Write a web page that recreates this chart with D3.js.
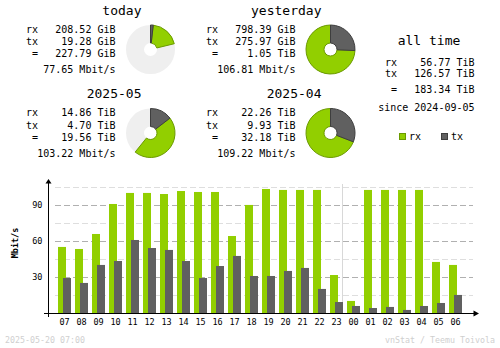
<!DOCTYPE html>
<html>
<head>
<meta charset="utf-8">
<script src="https://cdn.jsdelivr.net/npm/d3@7"></script>
<style>
  html, body { margin: 0; padding: 0; background: #fff; }
  svg { display: block; }
  text { font-family: "DejaVu Sans Mono", monospace; fill: #000; }
</style>
</head>
<body>
<svg id="chart" width="500" height="348"></svg>
<script>
// ---- summary periods ----
const periods   = ["today", "yesterday", "2025-05", "2025-04"];
const rxAmount  = [208.52, 798.39, 14.86, 22.26];
const txAmount  = [19.28, 275.97, 4.70, 9.93];
const units     = ["GiB", "GiB", "TiB", "TiB"];
const totalText = ["227.79 GiB", "1.05 TiB", "19.56 TiB", "32.18 TiB"];
const avgRate   = ["77.65 Mbit/s", "106.81 Mbit/s", "103.22 Mbit/s", "109.22 Mbit/s"];

// ---- all time ----
const allTimeRx = "56.77 TiB";
const allTimeTx = "126.57 TiB";
const allTimeTotal = "183.34 TiB";
const sinceDate = "2024-09-05";

// ---- last 24 hours, average rate in Mbit/s ----
const hours  = ["07","08","09","10","11","12","13","14","15","16","17","18",
                "19","20","21","22","23","00","01","02","03","04","05","06"];
const rxRate = [55.3, 53.6, 66.1, 91.1, 100.3, 100.3, 99.4, 101.9, 101.1, 101.1, 64.4, 90.3,
                103.6, 102.8, 102.8, 102.8, 31.9, 10.3, 102.8, 102.8, 102.8, 102.8, 42.8, 40.3];
const txRate = [29.4, 25.3, 40.3, 43.6, 61.1, 54.4, 52.8, 43.6, 29.4, 39.4, 47.8, 31.1,
                31.1, 35.3, 37.8, 20.3, 9.4, 6.1, 4.4, 5.3, 2.8, 6.1, 8.6, 15.3];
const yTicks = [30, 60, 90];
const yMinorTicks = [15, 45, 75, 105];

const footerLeft = "2025-05-20 07:00";
const footerRight = "vnStat / Teemu Toivola";

const RX = "#92cf00", RXD = "#6b9a00", TX = "#606060", TXD = "#3e3e3e";

const svg = d3.select("#chart");
svg.append("rect").attr("width", 500).attr("height", 348).attr("fill", "#fff");

// ---- summary blocks ----
const blockX = [0, 180, 0, 180];
const blockY = [0, 0, 83.5, 83.5];
const toGiB = { GiB: 1, TiB: 1024 };
const totals = rxAmount.map((v, i) => (v + txAmount[i]) * toGiB[units[i]]);
const arc = d3.arc().innerRadius(6.5).outerRadius(24.5);

periods.forEach((name, i) => {
  const g = svg.append("g").attr("transform", `translate(${blockX[i]},${blockY[i]})`);
  g.append("text").attr("x", 141.5).attr("y", 14.5).attr("text-anchor", "end")
    .style("font-size", "13px").text(name);

  const rows = [
    ["rx", rxAmount[i].toFixed(2) + " " + units[i], 32.7],
    ["tx", txAmount[i].toFixed(2) + " " + units[i], 45],
    ["=", totalText[i], 57.3]
  ];
  rows.forEach(([lab, val, y]) => {
    g.append("text").attr("x", lab === "=" ? 32 : 26).attr("y", y)
      .style("font-size", "10px").text(lab);
    g.append("text").attr("x", 115.5).attr("y", y).attr("text-anchor", "end")
      .style("font-size", "10px").text(val);
  });
  g.append("text").attr("x", 115.5).attr("y", 73.3).attr("text-anchor", "end")
    .style("font-size", "10px").text(avgRate[i]);

  // donut: share of the larger total of the pair (today/yesterday, month/previous month)
  const j = i ^ 1;
  const ref = Math.max(totals[i], totals[j]);
  const txA = txAmount[i] * toGiB[units[i]] / ref * 2 * Math.PI;
  const rxA = rxAmount[i] * toGiB[units[i]] / ref * 2 * Math.PI;
  const pg = g.append("g").attr("transform", "translate(150.5,49.5)");
  pg.append("path").attr("d", arc({ startAngle: 0, endAngle: 2 * Math.PI })).attr("fill", "#efefef");
  pg.append("path").attr("d", arc({ startAngle: txA, endAngle: txA + rxA }))
    .attr("fill", RX).attr("stroke", RXD).attr("stroke-width", 1);
  pg.append("path").attr("d", arc({ startAngle: 0, endAngle: txA }))
    .attr("fill", TX).attr("stroke", TXD).attr("stroke-width", 1);
});

// ---- all time block ----
const at = svg.append("g");
at.append("text").attr("x", 429).attr("y", 45).attr("text-anchor", "middle")
  .style("font-size", "13px").text("all time");
[["rx", allTimeRx, 65.7], ["tx", allTimeTx, 76.7], ["=", allTimeTotal, 92.7]].forEach(([lab, val, y]) => {
  at.append("text").attr("x", lab === "=" ? 391 : 385).attr("y", y).style("font-size", "10px").text(lab);
  at.append("text").attr("x", 474.5).attr("y", y).attr("text-anchor", "end").style("font-size", "10px").text(val);
});
at.append("text").attr("x", 474.5).attr("y", 111).attr("text-anchor", "end")
  .style("font-size", "10px").text("since " + sinceDate);

// legend
[[RX, RXD, "rx", 399.5], [TX, TXD, "tx", 441.5]].forEach(([c, cd, lab, x]) => {
  at.append("rect").attr("x", x).attr("y", 133.5).attr("width", 6).attr("height", 6)
    .attr("fill", c).attr("stroke", cd).attr("stroke-width", 1);
  at.append("text").attr("x", x + 9.5).attr("y", 140.3).style("font-size", "10px").text(lab);
});

// ---- hourly bar chart ----
const x = d3.scaleBand().domain(hours).range([56, 56 + 17 * hours.length]).paddingInner(0).paddingOuter(0);
const y = d3.scaleLinear().domain([0, 105]).range([313.3, 187.3]);

const grid = svg.append("g");
yMinorTicks.forEach(t => {
  grid.append("line").attr("x1", 55).attr("x2", 473)
    .attr("y1", Math.round(y(t)) + 0.5).attr("y2", Math.round(y(t)) + 0.5)
    .attr("stroke", "#dedede").attr("stroke-dasharray", "6,3");
});
yTicks.forEach(t => {
  grid.append("line").attr("x1", 55).attr("x2", 473)
    .attr("y1", Math.round(y(t)) + 0.5).attr("y2", Math.round(y(t)) + 0.5)
    .attr("stroke", "#b0b0b0").attr("stroke-dasharray", "6,3");
});

// midnight separator
const midX = x("00") - 2.5;
grid.append("line").attr("x1", midX).attr("x2", midX).attr("y1", 184).attr("y2", 313)
  .attr("stroke", "#d8d8d8");

const bars = svg.append("g");
bars.selectAll("rect.rx").data(hours).join("rect").attr("class", "rx")
  .attr("x", d => x(d) + 2).attr("width", 8)
  .attr("y", (d, i) => y(rxRate[i])).attr("height", (d, i) => y(0) - y(rxRate[i]))
  .attr("fill", RX);
bars.selectAll("rect.tx").data(hours).join("rect").attr("class", "tx")
  .attr("x", d => x(d) + 7).attr("width", 8)
  .attr("y", (d, i) => y(txRate[i])).attr("height", (d, i) => y(0) - y(txRate[i]))
  .attr("fill", TX);

// axes
const ax = svg.append("g");
ax.append("line").attr("x1", 48.5).attr("x2", 48.5).attr("y1", 180).attr("y2", 317)
  .attr("stroke", "#000").attr("stroke-width", 1);
ax.append("line").attr("x1", 44).attr("x2", 476).attr("y1", 313.5).attr("y2", 313.5)
  .attr("stroke", "#000").attr("stroke-width", 1);
ax.append("path").attr("d", "M45.5,183.5 L51.5,183.5 L48.5,179 Z").attr("fill", "#000");
ax.append("path").attr("d", "M473.5,310.5 L473.5,316.5 L479,313.5 Z").attr("fill", "#000");

ax.selectAll("text.ytick").data(yTicks).join("text").attr("class", "ytick")
  .attr("x", 42.5).attr("y", d => y(d) + 3).attr("text-anchor", "end")
  .style("font-size", "8.5px").text(d => d);

ax.selectAll("text.xtick").data(hours).join("text").attr("class", "xtick")
  .attr("x", d => x(d) + 8.5).attr("y", 324.5).attr("text-anchor", "middle")
  .style("font-size", "8.5px").text(d => d);

ax.append("text").attr("transform", "translate(17.5,243) rotate(-90)")
  .attr("text-anchor", "middle").style("font-size", "8.5px").style("font-weight", "bold")
  .text("Mbit/s");

// footer
svg.append("text").attr("x", 5).attr("y", 342.7).style("font-size", "8.3px")
  .style("fill", "#cfcfcf").text(footerLeft);
svg.append("text").attr("x", 495).attr("y", 342.7).attr("text-anchor", "end")
  .style("font-size", "8.3px").style("fill", "#cfcfcf").text(footerRight);
</script>
</body>
</html>
